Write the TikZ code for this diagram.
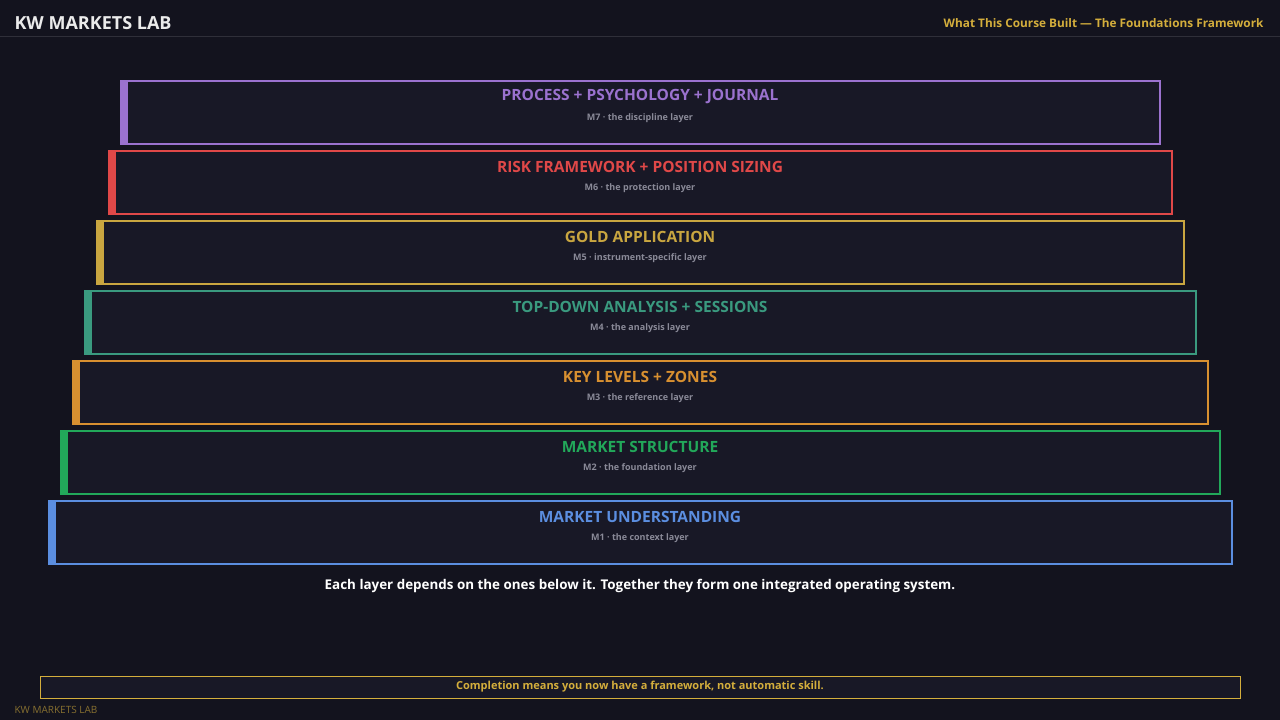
\documentclass[tikz,border=0pt]{standalone}
\usepackage{fontspec}
\setmainfont{Open Sans}
\usepackage{tikz}
\usetikzlibrary{positioning}
\definecolor{bg}{HTML}{13131E}
\definecolor{boxbg}{HTML}{181826}
\definecolor{gold}{HTML}{D4AE3C}
\definecolor{sub}{HTML}{8A8A98}
\definecolor{cM7}{HTML}{9B72CF}
\definecolor{cM6}{HTML}{E04848}
\definecolor{cM5}{HTML}{C9A640}
\definecolor{cM4}{HTML}{3A9A7F}
\definecolor{cM3}{HTML}{D89030}
\definecolor{cM2}{HTML}{22A85A}
\definecolor{cM1}{HTML}{5B8EE0}
\begin{document}
\begin{tikzpicture}[x=1pt,y=-1pt,
  title/.style={font=\fontsize{15.5}{15.5}\selectfont\bfseries},
  subtitle/.style={font=\fontsize{9}{9}\selectfont\bfseries, text=sub}]
\fill[bg] (0,0) rectangle (1280,720);
\useasboundingbox (0,0) rectangle (1280,720);
% header
\node[anchor=west, text=white!92!black, font=\fontsize{18}{18}\selectfont\bfseries] (brand) at (11,23) {KW MARKETS LAB};
\node[anchor=east, text=gold, font=\fontsize{11.8}{11.8}\selectfont\bfseries] (course) at (1267,23) {What This Course Built — The Foundations Framework};
\draw[color=white!12!bg, line width=1] (0,36.5) -- (1280,36.5);
% layers
\foreach \k/\c/\t/\s in {0/cM7/PROCESS + PSYCHOLOGY + JOURNAL/M7 · the discipline layer,
  1/cM6/RISK FRAMEWORK + POSITION SIZING/M6 · the protection layer,
  2/cM5/GOLD APPLICATION/M5 · instrument-specific layer,
  3/cM4/TOP-DOWN ANALYSIS + SESSIONS/M4 · the analysis layer,
  4/cM3/KEY LEVELS + ZONES/M3 · the reference layer,
  5/cM2/MARKET STRUCTURE/M2 · the foundation layer,
  6/cM1/MARKET UNDERSTANDING/M1 · the context layer}{
  \draw[draw=\c, fill=boxbg, line width=1.5] ({121-12*\k},{81+70*\k}) rectangle ({1160+12*\k},{144+70*\k});
  \fill[\c] ({120-12*\k},{80+70*\k}) rectangle ({128-12*\k},{145+70*\k});
  \node[title, text=\c] (layer\k) at (640,{97+70*\k}) {\t};
  \node[subtitle] (sub\k) at (640,{118+70*\k}) {\s};
}
\node[text=white, font=\fontsize{13.4}{13.4}\selectfont\bfseries] (note) at (640,586) {Each layer depends on the ones below it. Together they form one integrated operating system.};
% footer
\node[draw=gold, fill=boxbg, line width=1, minimum width=1200, minimum height=22, inner sep=0, text=gold, font=\fontsize{11}{11}\selectfont\bfseries] (done) at (640,687) {Completion means you now have a framework, not automatic skill.};
\node[anchor=west, text=gold!60!bg, font=\fontsize{10}{10}\selectfont] (mark) at (11,710) {KW MARKETS LAB};
\end{tikzpicture}
\end{document}
